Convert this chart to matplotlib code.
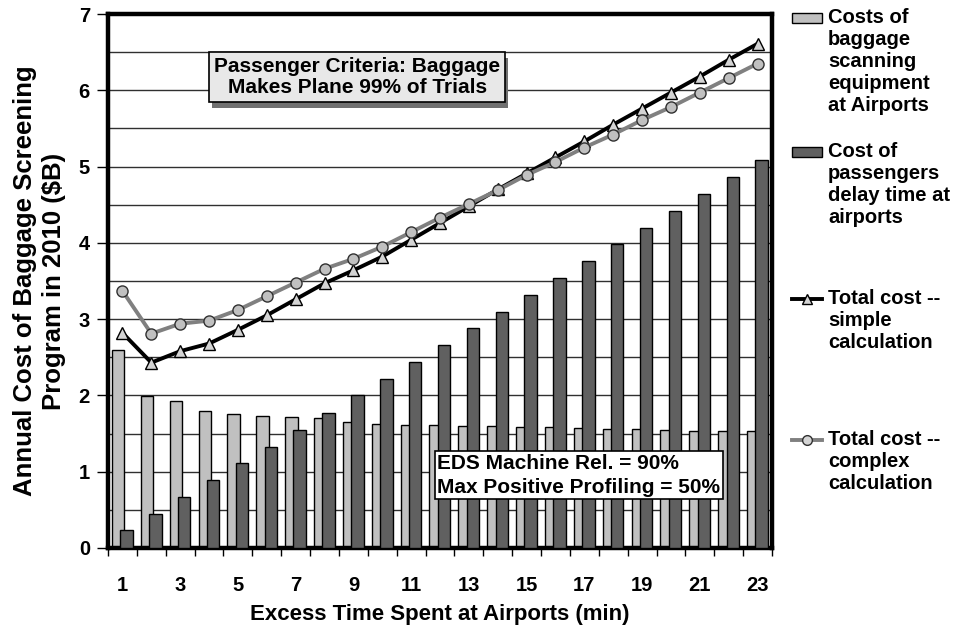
import matplotlib
matplotlib.use("Agg")
import matplotlib.pyplot as plt
import matplotlib.patheffects as pe
from matplotlib.patches import Rectangle
from matplotlib.lines import Line2D
import numpy as np

plt.rcParams['font.family'] = ['Liberation Sans', 'DejaVu Sans']
plt.rcParams['font.weight'] = 'bold'

minutes = list(range(1, 24))
equipment_cost = [2.60, 1.99, 1.93, 1.80, 1.76, 1.735, 1.72, 1.71, 1.65, 1.62, 1.61, 1.61,
                  1.60, 1.595, 1.59, 1.58, 1.575, 1.565, 1.556, 1.55, 1.54, 1.54, 1.535]
delay_cost = [0.23, 0.45, 0.67, 0.89, 1.11, 1.33, 1.55, 1.77, 2.00, 2.21, 2.44, 2.66,
              2.88, 3.10, 3.32, 3.54, 3.76, 3.98, 4.20, 4.42, 4.64, 4.86, 5.08]
total_simple = [2.82, 2.43, 2.58, 2.68, 2.86, 3.05, 3.26, 3.47, 3.64, 3.82, 4.04, 4.26,
                4.48, 4.70, 4.91, 5.12, 5.33, 5.55, 5.76, 5.97, 6.18, 6.40, 6.61]
total_complex = [3.37, 2.81, 2.94, 2.98, 3.12, 3.30, 3.48, 3.66, 3.79, 3.95, 4.14, 4.33,
                 4.51, 4.69, 4.89, 5.06, 5.25, 5.42, 5.61, 5.78, 5.97, 6.16, 6.35]

LIGHT = '#c0c0c0'
DARK = '#606060'

fig = plt.figure(figsize=(9.56, 6.28), dpi=100)
ax = fig.add_axes([0.113, 0.1274, 0.6945, 0.8503])

x = np.array(minutes)
ax.bar(x - 0.15, equipment_cost, width=0.43, color=LIGHT, edgecolor='black', linewidth=1.0, zorder=2)
ax.bar(x + 0.14, delay_cost, width=0.43, color=DARK, edgecolor='black', linewidth=1.0, zorder=3)
ax.plot(x, total_simple, color='black', lw=2.8, marker='^', ms=8, mfc='#d4d4d4', mec='black', mew=1.0, zorder=4)
ax.plot(x, total_complex, color='#808080', lw=2.8, marker='o', ms=8, mfc=LIGHT, mec='#303030', mew=1.0, zorder=5)

ax.set_xlim(0.5, 23.5)
ax.set_ylim(0, 7)
ax.set_yticks(range(0, 8))
ax.set_yticks(np.arange(0.5, 7, 1.0), minor=True)
ax.set_xticks(range(1, 24, 2))
ax.set_xticks(np.arange(0.5, 24, 1.0), minor=True)
ax.tick_params(axis='x', which='major', length=0, pad=20, labelsize=14.5)
ax.tick_params(axis='x', which='minor', length=6, width=1, direction='out')
ax.tick_params(axis='y', which='major', length=8, width=1, direction='out', pad=5, labelsize=14.5)
ax.tick_params(axis='y', which='minor', length=0)
for lab in ax.get_xticklabels() + ax.get_yticklabels():
    lab.set_fontweight('bold')

ax.grid(axis='y', which='both', color='#303030', linewidth=1.0, zorder=0)
ax.set_axisbelow(True)
for sp in ax.spines.values():
    sp.set_linewidth(3.2)
    sp.set_color('black')

ax.set_xlabel('Excess Time Spent at Airports (min)', fontsize=16, fontweight='bold', labelpad=7)
ax.set_ylabel('Annual Cost of Baggage Screening\nProgram in 2010 ($B)', fontsize=18.5,
              fontweight='bold', labelpad=9, linespacing=1.25)

# scenario boxes
crit = ax.text(9.13, 6.17, 'Passenger Criteria: Baggage\nMakes Plane 99% of Trials', ha='center',
               va='center', fontsize=15, fontweight='bold', linespacing=1.12,
               bbox=dict(boxstyle='square,pad=0.25', fc='#e8e8e8', ec='black', lw=1.2), zorder=7)
crit.get_bbox_patch().set_path_effects([
    pe.SimplePatchShadow(offset=(2, -4), shadow_rgbFace='#707070', alpha=1.0), pe.Normal()])
ax.text(11.9, 0.955, 'EDS Machine Rel. = 90%\nMax Positive Profiling = 50%', ha='left', va='center',
        fontsize=15, fontweight='bold', linespacing=1.35,
        bbox=dict(boxstyle='square,pad=0.12', fc='white', ec='black', lw=1.2), zorder=7)

# legend on the right, handles aligned to first text line
W, H = 956, 628
entries = [
    ('bar', LIGHT, 'Costs of\nbaggage\nscanning\nequipment\nat Airports', 18),
    ('bar', DARK, 'Cost of\npassengers\ndelay time at\nairports', 152),
    ('line', ('black', '^'), 'Total cost --\nsimple\ncalculation', 299),
    ('line', ('#808080', 'o'), 'Total cost --\ncomplex\ncalculation', 440),
]
for kind, style, label, ypx in entries:
    yf = 1 - ypx / H
    if kind == 'bar':
        fig.add_artist(Rectangle((792 / W, yf - 5 / H), 30 / W, 10 / H, transform=fig.transFigure,
                                 fc=style, ec='black', lw=1.0))
    else:
        color, mk = style
        fig.add_artist(Line2D([792 / W, 822 / W], [yf, yf], transform=fig.transFigure, color=color,
                              lw=2.8))
        fig.add_artist(Line2D([807 / W], [yf], transform=fig.transFigure, marker=mk, ms=7,
                              mfc='#d4d4d4', mec='black' if mk == '^' else '#303030', mew=1.0))
    fig.text(828 / W, yf + 10 / H, label, ha='left', va='top', fontsize=14.5, fontweight='bold',
             linespacing=1.2, transform=fig.transFigure)

fig.savefig('out.png', dpi=100)
